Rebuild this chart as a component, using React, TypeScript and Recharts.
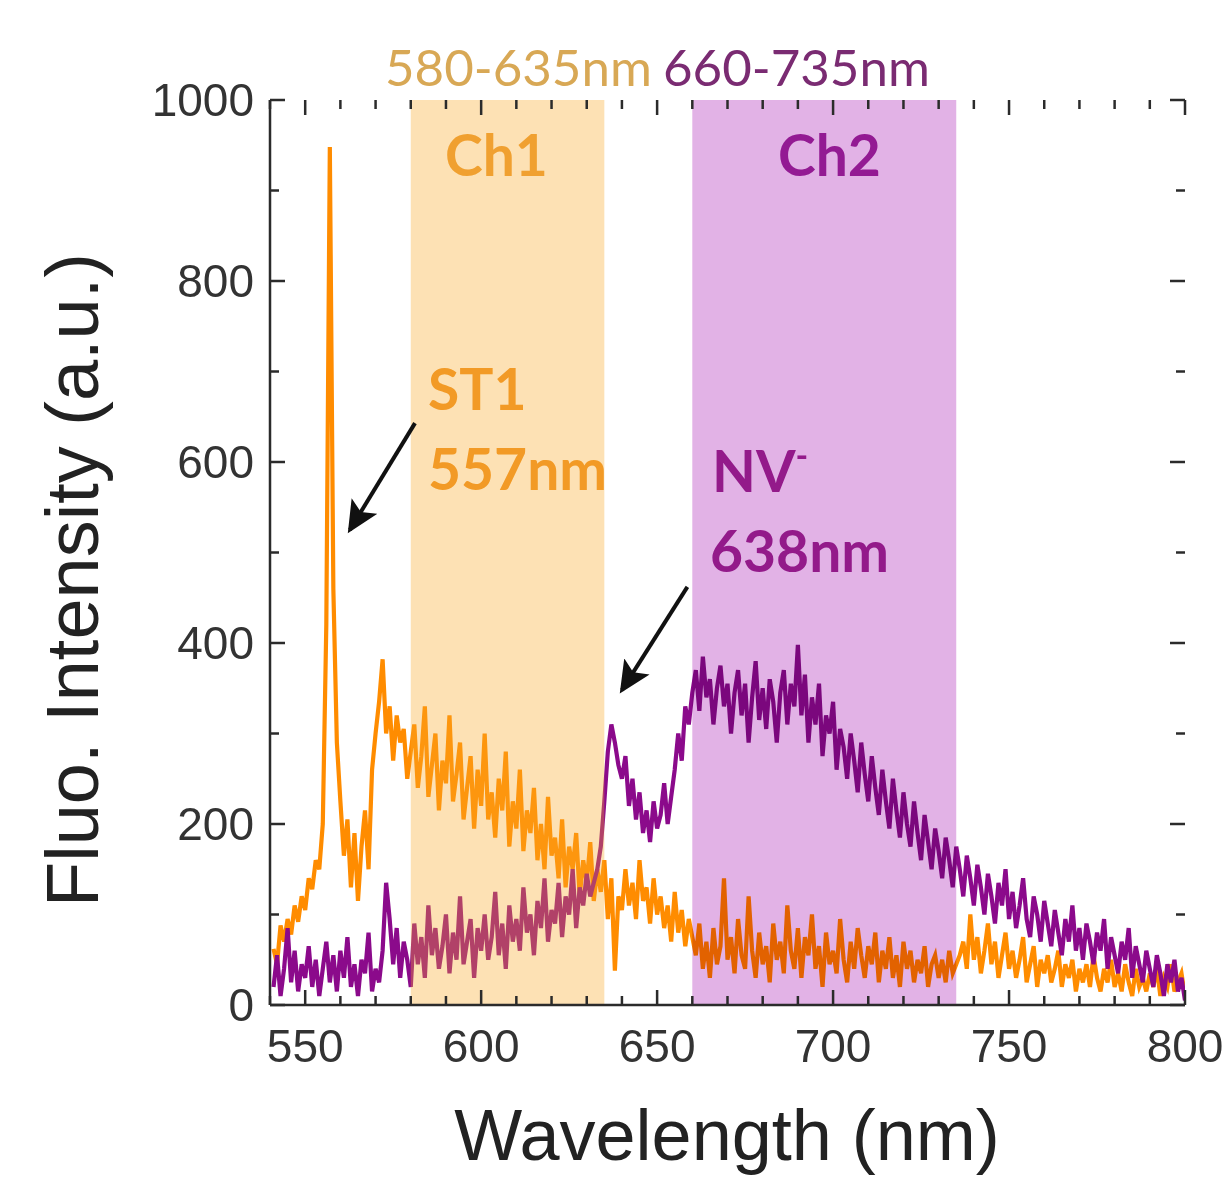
import React from 'react';
import { LineChart, Line, XAxis, YAxis, ReferenceArea, ReferenceLine } from 'recharts';

// wavelength grid, 1 nm steps from 541 to 800
const WAVELENGTHS = Array.from({ length: 260 }, (_, i) => 541 + i);

// ST1 spectrum (orange)
const ST1 = [
    62, 45, 88, 70, 95, 78, 110, 92, 120, 105,
    140, 128, 160, 150, 200, 420, 948, 460, 290, 225,
    165, 205, 130, 190, 115, 175, 215, 150, 260, 300,
    335, 382, 300, 330, 270, 320, 290, 305, 250, 280,
    310, 240, 275, 330, 230, 265, 300, 215, 270, 245,
    320, 225, 255, 290, 205, 240, 275, 195, 260, 220,
    300, 205, 235, 185, 250, 215, 280, 175, 225, 195,
    260, 170, 215, 190, 240, 160, 200, 150, 230, 165,
    185, 140, 205, 130, 175, 150, 190, 120, 160, 135,
    180, 115, 150, 125, 160, 95, 140, 38, 120, 105,
    150, 110, 135, 95, 160, 115, 130, 90, 140, 100,
    120, 85, 110, 70, 125, 80, 105, 65, 95, 75,
    55, 90, 40, 70, 30, 85, 45, 65, 140, 50,
    75, 35, 95, 55, 40, 120, 60, 30, 80, 45,
    65, 25, 90, 50, 70, 35, 110, 60, 40, 85,
    30, 75, 55, 100, 40, 65, 20, 80, 45, 60,
    35, 95, 50, 25, 70, 40, 85, 55, 30, 65,
    45, 80, 25, 60, 40, 75, 30, 55, 20, 70,
    40, 60, 25, 50, 35, 65, 20, 45, 55, 30,
    50, 25, 60, 35, 45, 55, 70, 40, 100, 50,
    75, 35, 60, 90, 45, 70, 30, 55, 80, 40,
    60, 30, 50, 75, 25, 45, 65, 20, 50, 35,
    55, 25, 40, 60, 20, 45, 30, 50, 15, 40,
    25, 45, 20, 55, 30, 15, 40, 25, 50, 20,
    35, 15, 45, 25, 10, 40, 20, 30, 15, 35,
    20, 40, 10, 30, 20, 45, 15, 25, 35, 10,
];

// NV- spectrum (purple)
const NV = [
    20, 55, 10, 40, 85, 25, 60, 15, 45, 30,
    65, 20, 50, 10, 40, 70, 25, 55, 15, 60,
    30, 75, 20, 45, 10, 50, 35, 80, 15, 40,
    25, 60, 135, 95, 45, 85, 30, 70, 50, 20,
    90, 45, 75, 30, 110, 55, 85, 40, 65, 100,
    35, 80, 50, 120, 45, 70, 95, 30, 85, 60,
    100, 50, 75, 125, 55, 90, 40, 110, 70, 95,
    60, 130, 80, 100, 55, 115, 85, 140, 70, 105,
    90, 135, 75, 120, 100, 150, 85, 130, 110, 145,
    120, 135, 150, 175, 225, 280, 310, 290, 265, 250,
    275, 220, 250, 205, 235, 190, 215, 180, 225, 195,
    210, 245, 200, 230, 260, 300, 270, 330, 310, 345,
    370, 325, 385, 340, 360, 310, 350, 375, 330, 355,
    300, 345, 370, 320, 355, 290, 340, 380, 315, 350,
    305, 360, 335, 290, 345, 370, 310, 355, 330, 398,
    320, 365, 290, 340, 310, 355, 275, 320, 300, 335,
    260, 305, 285, 250, 300, 270, 235, 290, 255, 225,
    275, 240, 210, 260, 225, 195, 250, 215, 185, 235,
    200, 175, 225, 190, 160, 210, 180, 150, 195, 170,
    140, 185, 160, 130, 175, 150, 120, 165, 140, 110,
    155, 130, 100, 145, 120, 90, 135, 110, 150, 95,
    125, 85, 110, 140, 95, 75, 120, 100, 70, 115,
    90, 65, 105, 80, 55, 95, 70, 110, 60, 85,
    50, 90, 70, 45, 80, 60, 95, 40, 75, 55,
    35, 70, 50, 85, 30, 65, 45, 25, 60, 40,
    20, 55, 35, 10, 45, 25, 50, 15, 30, 5,
];

const X_TICKS = [540, 550, 560, 570, 580, 590, 600, 610, 620, 630, 640, 650, 660, 670, 680, 690, 700, 710, 720, 730, 740, 750, 760, 770, 780, 790, 800];
const X_LABELS = [550, 600, 650, 700, 750, 800];
const Y_TICKS = [0, 100, 200, 300, 400, 500, 600, 700, 800, 900, 1000];
const Y_LABELS = [0, 200, 400, 600, 800, 1000];

const CH1 = [580, 635];
const CH2 = [660, 735];

const data = WAVELENGTHS.map((nm, i) => ({ nm, st1: ST1[i], nv: NV[i] }));

const PLOT_W = 915;
const PLOT_H = 905;
const AXIS = '#2b2b2b';
const tickFont = { fontFamily: '"Liberation Sans", Arial, sans-serif', fontSize: 46, fill: '#333' };

// bottom tick also mirrors itself onto the top edge of the frame
const BottomTick = (props: any) => {
    const { x, y, payload } = props;
    const major = X_LABELS.includes(payload.value);
    const len = major ? 15 : 9;
    const top = y - PLOT_H;
    return (
        <g>
            <line x1={x} x2={x} y1={y} y2={y - len} stroke={AXIS} strokeWidth={2.5} />
            <line x1={x} x2={x} y1={top} y2={top + len} stroke={AXIS} strokeWidth={2.5} />
            {major && (
                <text x={x} y={y + 57} textAnchor="middle" {...tickFont}>{payload.value}</text>
            )}
        </g>
    );
};

// left tick also mirrors itself onto the right edge
const LeftTick = (props: any) => {
    const { x, y, payload } = props;
    const major = Y_LABELS.includes(payload.value);
    const len = major ? 15 : 9;
    const right = x + PLOT_W;
    return (
        <g>
            <line x1={x} x2={x + len} y1={y} y2={y} stroke={AXIS} strokeWidth={2.5} />
            <line x1={right} x2={right - len} y1={y} y2={y} stroke={AXIS} strokeWidth={2.5} />
            {major && (
                <text x={x - 16} y={y + 16} textAnchor="end" {...tickFont}>{payload.value}</text>
            )}
        </g>
    );
};

const multiplyRect = (props: any) => (
    <rect x={props.x} y={props.y} width={props.width} height={props.height} fill="#e2b2e6" style={{ mixBlendMode: 'multiply' }} />
);

const annot = { fontFamily: 'Lato, "Open Sans", sans-serif', fontWeight: 700, fontSize: 57 };

const App = () => {
    return (
        <div style={{ position: 'absolute', left: 0, top: 0, width: 1230, height: 1188, background: '#fff' }}>
            <LineChart width={1230} height={1188} data={data} margin={{ top: 100, right: 45, bottom: 0, left: 0 }}>
                <XAxis
                    dataKey="nm"
                    type="number"
                    domain={[540, 800]}
                    ticks={X_TICKS}
                    interval={0}
                    height={183}
                    tickSize={0}
                    tickMargin={0}
                    tickLine={false}
                    tick={<BottomTick />}
                    axisLine={{ stroke: AXIS, strokeWidth: 2.5 }}
                    allowDataOverflow
                />
                <XAxis
                    xAxisId="top"
                    orientation="top"
                    type="number"
                    domain={[540, 800]}
                    height={0}
                    tick={false}
                    tickLine={false}
                    axisLine={{ stroke: AXIS, strokeWidth: 2.5 }}
                />
                <YAxis
                    type="number"
                    domain={[0, 1000]}
                    ticks={Y_TICKS}
                    interval={0}
                    width={270}
                    tickSize={0}
                    tickMargin={0}
                    tickLine={false}
                    tick={<LeftTick />}
                    axisLine={{ stroke: AXIS, strokeWidth: 2.5 }}
                    allowDataOverflow
                />
                <YAxis
                    yAxisId="right"
                    orientation="right"
                    type="number"
                    domain={[0, 1000]}
                    width={0}
                    tick={false}
                    tickLine={false}
                    axisLine={{ stroke: AXIS, strokeWidth: 2.5 }}
                />
                <Line dataKey="st1" stroke="#ff8c00" strokeWidth={4.2} dot={false} isAnimationActive={false} />
                <Line dataKey="nv" stroke="#8b0a8b" strokeWidth={4.2} dot={false} isAnimationActive={false} />
                <ReferenceArea x1={CH1[0]} x2={CH1[1]} y1={0} y2={1000} fill="#f9a929" fillOpacity={0.35} stroke="none" zIndex={450} />
                <ReferenceArea x1={CH2[0]} x2={CH2[1]} y1={0} y2={1000} shape={multiplyRect} stroke="none" zIndex={450} />
                <ReferenceLine
                    segment={[{ x: 581.2, y: 643 }, { x: 562.7, y: 525 }]}
                    stroke="#111"
                    strokeWidth={4}
                    markerEnd="url(#arrowHead)"
                    zIndex={460}
                />
                <ReferenceLine
                    segment={[{ x: 658.6, y: 462 }, { x: 640, y: 348 }]}
                    stroke="#111"
                    strokeWidth={4}
                    markerEnd="url(#arrowHead)"
                    zIndex={460}
                />
            </LineChart>

            {/* titles and annotations */}
            <svg width={1230} height={1188} style={{ position: 'absolute', left: 0, top: 0, pointerEvents: 'none' }}>
                <defs>
                    <marker id="arrowHead" markerUnits="userSpaceOnUse" markerWidth={34} markerHeight={30} refX={28} refY={15} orient="auto">
                        <path d="M0,0 L32,15 L0,30 L7,15 Z" fill="#111" />
                    </marker>
                </defs>
                <text x={385} y={86} fontFamily="Lato, sans-serif" fontSize={51} fill="#d8a855">580-635nm</text>
                <text x={663} y={86} fontFamily="Lato, sans-serif" fontSize={51} fill="#7a2b72">660-735nm</text>
                <text x={445} y={176} {...annot} fill="#f0a030">Ch1</text>
                <text x={778} y={176} {...annot} fill="#931a93">Ch2</text>
                <text x={428} y={410} {...annot} fill="#f29a26">ST1</text>
                <text x={428} y={490} {...annot} fill="#f29a26">557nm</text>
                <text x={712} y={492} {...annot} fill="#931a8a">NV<tspan fontSize={34} dy={-24}>-</tspan></text>
                <text x={710} y={572} {...annot} fill="#931a8a">638nm</text>
                <text
                    x={72}
                    y={580}
                    transform="rotate(-90 72 580)"
                    textAnchor="middle"
                    dominantBaseline="central"
                    fontFamily='"Liberation Sans", Arial, sans-serif'
                    fontSize={74}
                    fill="#222"
                >
                    Fluo. Intensity (a.u.)
                </text>
                <text x={727} y={1160} textAnchor="middle" fontFamily='"Liberation Sans", Arial, sans-serif' fontSize={72} fill="#222">
                    Wavelength (nm)
                </text>
            </svg>
        </div>
    );
};

export default App;
